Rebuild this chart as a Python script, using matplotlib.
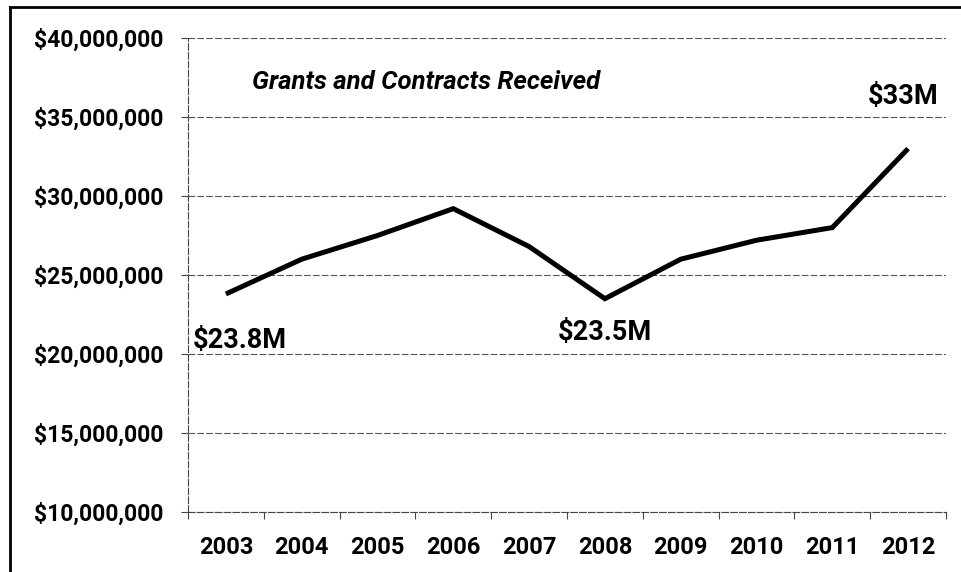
import matplotlib.pyplot as plt
from matplotlib.lines import Line2D
from matplotlib.ticker import FixedLocator, FuncFormatter, MultipleLocator

YEARS = ["2003", "2004", "2005", "2006", "2007", "2008", "2009", "2010", "2011", "2012"]
AMOUNTS = [
    23_800_000,
    26_000_000,
    27_500_000,
    29_200_000,
    26_800_000,
    23_500_000,
    26_000_000,
    27_200_000,
    28_000_000,
    33_000_000,
]

# (year index, label) for the called-out points
CALLOUTS = [
    (0, "$23.8M"),
    (5, "$23.5M"),
    (9, "$33M"),
]

TITLE = "Grants and Contracts Received"

Y_MIN = 10_000_000
Y_MAX = 40_000_000
Y_STEP = 5_000_000

FONT = ["Roboto", "DejaVu Sans"]


def main() -> None:
    plt.rcParams["font.family"] = FONT

    fig = plt.figure(figsize=(9.62, 5.72), dpi=100)
    ax = fig.add_axes([188 / 962, 1 - 512 / 572, 758 / 962, 474 / 572])

    x = list(range(len(YEARS)))
    ax.plot(x, AMOUNTS, color="black", linewidth=3.6, solid_joinstyle="miter",
            solid_capstyle="butt", zorder=3)

    ax.set_xlim(-0.5, len(YEARS) - 0.5)
    ax.set_ylim(Y_MIN, Y_MAX)

    # year labels centred on the points, tick marks between categories
    ax.set_xticks(x)
    ax.set_xticklabels(YEARS, fontsize=17, fontweight="bold")
    ax.xaxis.set_minor_locator(FixedLocator([i + 0.5 for i in range(-1, len(YEARS))]))
    ax.tick_params(axis="x", which="major", length=0, pad=17)
    ax.tick_params(axis="x", which="minor", length=5, width=0.8, color="#444444")

    ax.yaxis.set_major_locator(MultipleLocator(Y_STEP))
    ax.yaxis.set_major_formatter(FuncFormatter(lambda v, _: f"${v:,.0f}"))
    ax.tick_params(axis="y", length=5, width=0.8, color="#444444", pad=13,
                   labelsize=16.5)
    for label in ax.get_yticklabels():
        label.set_fontweight("bold")

    ax.grid(axis="y", color="#555555", linewidth=0.8, linestyle=(0, (6, 2)))
    ax.set_axisbelow(True)

    for side in ["top", "right"]:
        ax.spines[side].set_visible(False)
    for side in ["left", "bottom"]:
        ax.spines[side].set_color("#444444")
        ax.spines[side].set_linewidth(0.8)
        ax.spines[side].set_linestyle((0, (6, 2)))

    ax.text(0.085, 0.907, TITLE, transform=ax.transAxes, fontsize=18.5,
            fontweight="bold", fontstyle="italic", va="center", ha="left")

    offsets = {0: (14, -47), 5: (0, -34), 9: (-5, 52)}
    for idx, text in CALLOUTS:
        ax.annotate(
            text,
            (x[idx], AMOUNTS[idx]),
            xytext=offsets[idx],
            textcoords="offset pixels",
            ha="center",
            va="center",
            fontsize=19.5,
            fontweight="bold",
        )

    # frame around the chart (top and left edges)
    fig.add_artist(Line2D([10 / 962, 10 / 962], [0, 1 - 7 / 572],
                          transform=fig.transFigure, color="black", linewidth=2))
    fig.add_artist(Line2D([10 / 962, 1], [1 - 7 / 572, 1 - 7 / 572],
                          transform=fig.transFigure, color="black", linewidth=2))

    fig.savefig("out.png", dpi=100)
    plt.close(fig)


if __name__ == "__main__":
    main()
